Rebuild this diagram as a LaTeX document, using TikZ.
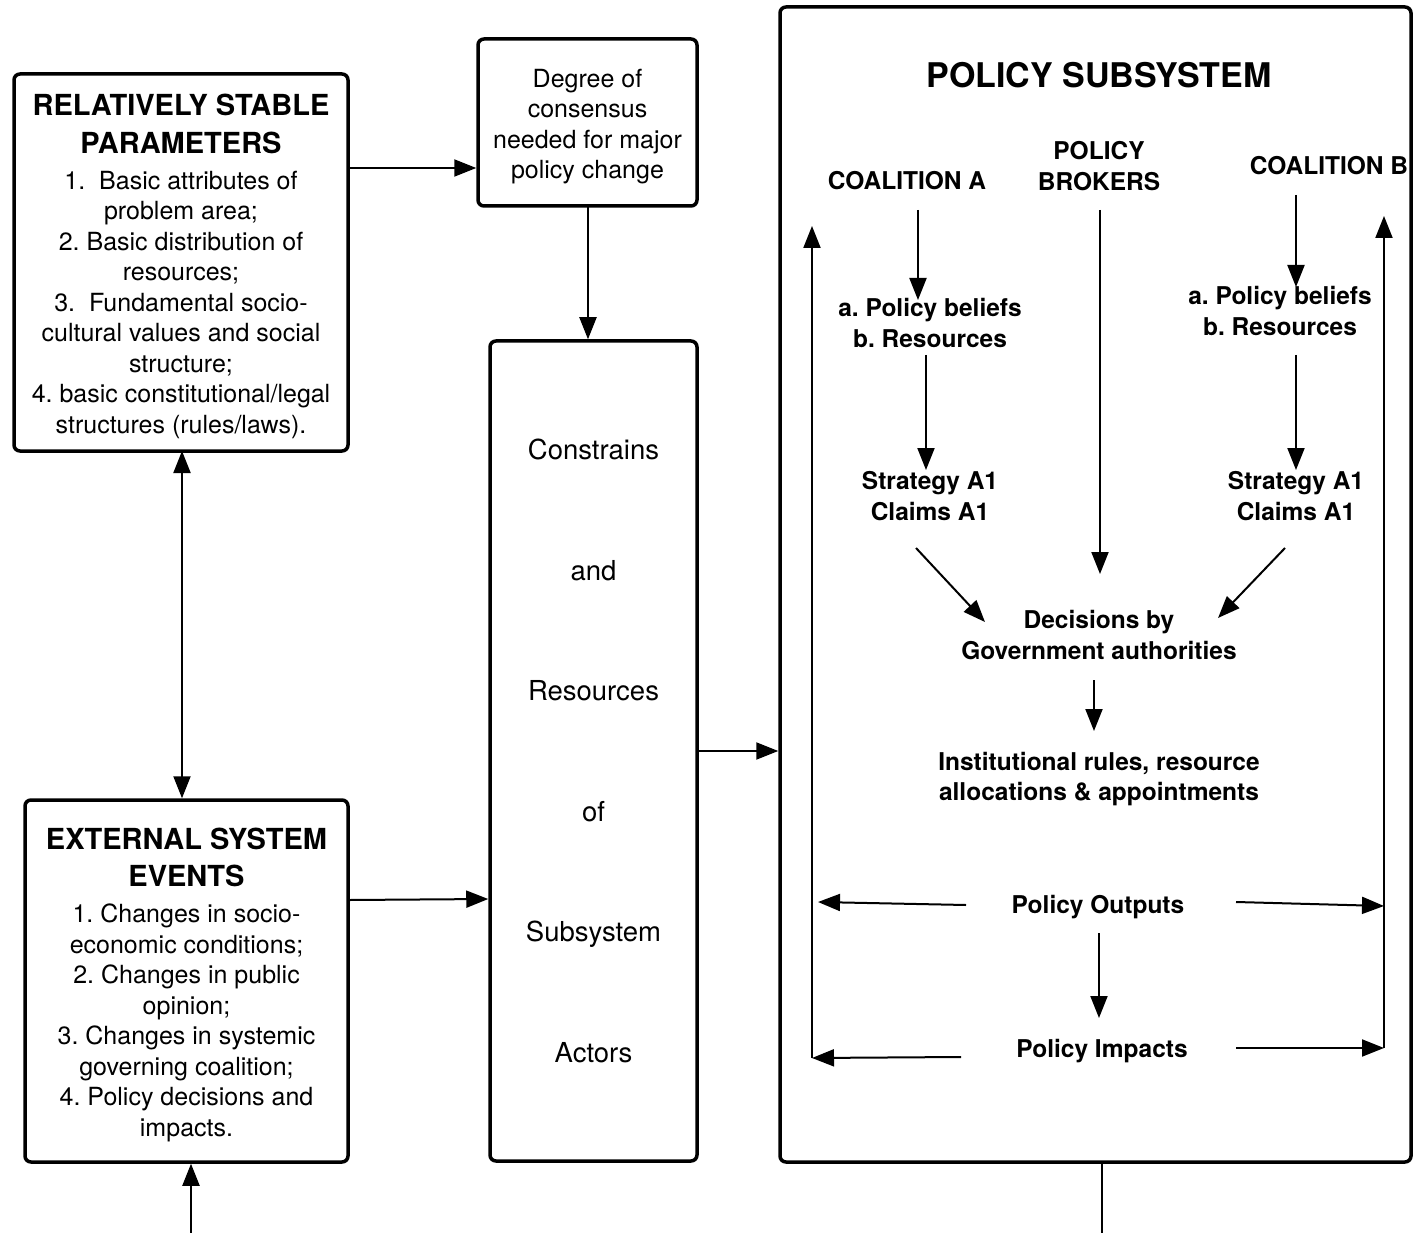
\documentclass[tikz,border=0pt]{standalone}
\usepackage{fontspec}
\setmainfont{TeX Gyre Heros}
\usetikzlibrary{arrows.meta}
\frenchspacing
\begin{document}
\frenchspacing
\begin{tikzpicture}[x=1pt,y=-1pt,
  box/.style={draw, line width=3.5pt, rounded corners=6pt, align=center, inner sep=0pt,
    font=\fontsize{25}{30.5}\selectfont},
  arr/.style={line width=2pt, -{Triangle[length=22pt,width=17pt]}},
  dblarr/.style={line width=2pt, {Triangle[length=22pt,width=17pt]}-{Triangle[length=22pt,width=17pt]}},
  lbl/.style={align=center, inner sep=0pt, font=\fontsize{24.5}{30.5}\selectfont\bfseries},
]
\useasboundingbox (0,0) rectangle (1422,1233);

% left boxes
\node[box, minimum width=334pt, minimum height=377pt] (p1) at (181,262.5)
  {\rule{0pt}{29pt}{\fontsize{29}{38}\selectfont\bfseries RELATIVELY STABLE}\\[7.5pt]
   {\fontsize{29}{38}\selectfont\bfseries PARAMETERS}\\[5.5pt]
   1.\ \ Basic attributes of\\ problem area;\\ 2. Basic distribution of\\ resources;\\
   3.\ \ Fundamental socio-\\ cultural values and social\\ structure;\\
   4. basic constitutional/legal\\ structures (rules/laws).};

\node[box, minimum width=219pt, minimum height=167pt] (deg) at (587.5,122.5)
  {\rule{0pt}{26.5pt}Degree of\\ consensus\\ needed for major\\ policy change};

\node[box, minimum width=207pt, minimum height=820pt, font=\fontsize{27.5}{120.6}\selectfont] (cr) at (593.5,751)
  {Constrains\\ and\\ Resources\\ of\\ Subsystem\\ Actors};

\node[box, minimum width=323pt, minimum height=362pt] (ev) at (186.5,981)
  {\rule{0pt}{29pt}{\fontsize{29}{38}\selectfont\bfseries EXTERNAL SYSTEM}\\[6.5pt]
   {\fontsize{29}{38}\selectfont\bfseries EVENTS}\\[5.5pt]
   1. Changes in socio-\\ economic conditions;\\ 2. Changes in public\\ opinion;\\
   3. Changes in systemic\\ governing coalition;\\ 4. Policy decisions and\\ impacts.};

% subsystem box
\node[box, minimum width=631pt, minimum height=1155pt] (ss) at (1095.5,584.5) {};

\node[lbl, font=\fontsize{34}{40}\selectfont\bfseries] (title) at (1099,75) {POLICY SUBSYSTEM};
\node[lbl] (coalA) at (907,181) {COALITION A};
\node[lbl] (brokers) at (1099,166) {POLICY\\ BROKERS};
\node[lbl] (coalB) at (1329,166) {COALITION B};
\node[lbl] (beliefA) at (930,323) {a. Policy beliefs\\ b. Resources};
\node[lbl] (beliefB) at (1280,311) {a. Policy beliefs\\ b. Resources};
\node[lbl] (stratA) at (930,496) {Strategy A1\\ Claims A1};
\node[lbl] (stratB) at (1296,496) {Strategy A1\\ Claims A1};
\node[lbl] (dec) at (1099,635) {Decisions by\\ Government authorities};
\node[lbl] (inst) at (1099,779) {Institutional rules, resource\\ allocations \& appointments};
\node[lbl] (out) at (1098,907) {Policy Outputs};
\node[lbl] (imp) at (1102,1051) {Policy Impacts};

% arrow end coordinates inside subsystem
\coordinate (a1) at (918,210);  \coordinate (a2) at (918,300);
\coordinate (a3) at (926,355);  \coordinate (a4) at (926,470);
\coordinate (a5) at (916,548);  \coordinate (a6) at (985,622);
\coordinate (r1) at (1100,210); \coordinate (r2) at (1100,574);
\coordinate (b1) at (1296,195); \coordinate (b2) at (1296,287);
\coordinate (b3) at (1296,355); \coordinate (b4) at (1296,470);
\coordinate (b5) at (1285,548); \coordinate (b6) at (1218,618);
\coordinate (d1) at (1094,680); \coordinate (d2) at (1094,731);
\coordinate (o1) at (966,905);  \coordinate (o2) at (818,902);
\coordinate (o3) at (1236,902); \coordinate (o4) at (1384,906);
\coordinate (o5) at (1099,933); \coordinate (o6) at (1099,1018);
\coordinate (i1) at (961,1057); \coordinate (i2) at (812,1058);
\coordinate (i3) at (1236,1048); \coordinate (i4) at (1384,1048);
\coordinate (lt) at (812,226);  \coordinate (rt) at (1384,216);

\draw[arr] (a1) -- (a2);
\draw[arr] (a3) -- (a4);
\draw[arr] (a5) -- (a6);
\draw[arr] (r1) -- (r2);
\draw[arr] (b1) -- (b2);
\draw[arr] (b3) -- (b4);
\draw[arr] (b5) -- (b6);
\draw[arr] (d1) -- (d2);
\draw[arr] (o1) -- (o2);
\draw[arr] (o3) -- (o4);
\draw[arr] (o5) -- (o6);
\draw[arr] (i1) -- (i2);
\draw[arr] (i3) -- (i4);
\draw[arr] (i2) -- (lt);
\draw[arr] (i4) -- (rt);

% connectors between boxes
\draw[arr] (p1.east |- 0,168) -- (deg.west |- 0,168);
\draw[arr] (588,206) coordinate (dgb) -- (dgb |- cr.north);
\draw[dblarr] (182,451) coordinate (pb) -- (pb |- ev.north);
\draw[arr] (ev.east |- 0,900) -- (cr.west |- 0,899);
\draw[arr] (cr.east |- 0,751) -- (ss.west |- 0,751);
\coordinate (evin) at (191,1233);
\draw[arr] (evin) -- (evin |- ev.south);
\coordinate (ssout) at (1102,1233);
\draw[line width=2pt] (ssout |- ss.south) -- (ssout);
\end{tikzpicture}
\end{document}
